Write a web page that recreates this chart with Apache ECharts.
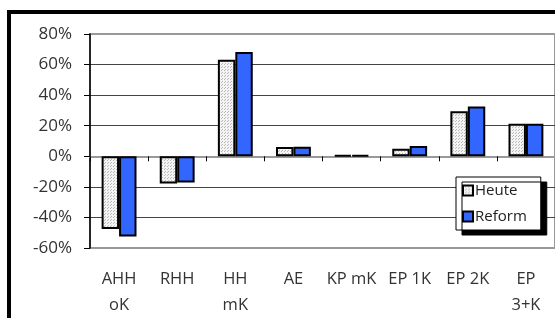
<!DOCTYPE html>
<html>
<head>
<meta charset="utf-8">
<script src="https://cdn.jsdelivr.net/npm/echarts@6/dist/echarts.min.js"></script>
<style>
  html, body { margin: 0; padding: 0; background: #fff; }
  #chart { width: 555px; height: 318px; }
</style>
</head>
<body>
<div id="chart"></div>
<script>
  // Kategorien und Werte (in %)
  var categories = ['AHH\noK', 'RHH', 'HH\nmK', 'AE', 'KP mK', 'EP 1K', 'EP 2K', 'EP\n3+K'];
  var heute = [-47.5, -17.8, 63.2, 6.0, 0.8, 5.0, 29.5, 21.3];
  var reform = [-52.5, -17.2, 68.2, 6.3, 0.8, 6.7, 32.5, 21.3];
  var seriesNames = ['Heute', 'Reform'];

  // gepunktetes Muster fuer "Heute"
  var dots = document.createElement('canvas');
  dots.width = 3;
  dots.height = 3;
  var ctx = dots.getContext('2d');
  ctx.fillStyle = '#f4f4f4';
  ctx.fillRect(0, 0, 3, 3);
  ctx.fillStyle = '#b8b8b8';
  ctx.fillRect(0, 0, 1, 1);
  ctx.fillRect(2, 1, 1, 1);

  var font = 'Open Sans';
  var myChart = echarts.init(document.getElementById('chart'));
  myChart.setOption({
    animation: false,
    textStyle: { fontFamily: font, color: '#333' },
    graphic: [{
      type: 'rect',
      shape: { x: 9, y: 12, width: 600, height: 400 },
      style: { fill: 'none', stroke: '#000', lineWidth: 4 },
      z: 100
    }],
    legend: {
      data: seriesNames,
      orient: 'vertical',
      left: 456,
      top: 177,
      padding: [6, 14, 6, 6],
      itemGap: 11,
      itemWidth: 10,
      itemHeight: 10,
      icon: 'rect',
      backgroundColor: '#fff',
      borderColor: '#000',
      borderWidth: 1,
      shadowColor: '#000',
      shadowBlur: 0,
      shadowOffsetX: 6,
      shadowOffsetY: 5,
      textStyle: { fontFamily: font, fontSize: 15, color: '#222', padding: [0, 0, 0, -3] }
    },
    grid: {
      left: 90,
      top: 34,
      width: 476,
      height: 218,
      show: true,
      borderColor: '#999',
      borderWidth: 2,
      backgroundColor: 'transparent'
    },
    xAxis: [{
      type: 'category',
      data: categories,
      position: 'bottom',
      axisLine: { show: false, onZero: false },
      axisTick: { show: false },
      axisLabel: { interval: 0, fontFamily: font, fontSize: 16.5, color: '#333', lineHeight: 26, margin: 18 }
    }, {
      type: 'category',
      data: categories,
      position: 'bottom',
      axisLine: { show: true, onZero: true, lineStyle: { color: '#999', width: 2 } },
      axisTick: { show: true, interval: 0, length: 5, lineStyle: { color: '#000', width: 1 } },
      axisLabel: { show: false }
    }],
    yAxis: {
      type: 'value',
      min: -60,
      max: 80,
      interval: 20,
      axisLine: { show: true, lineStyle: { color: '#000', width: 1.5 } },
      axisTick: { show: true, length: 6, lineStyle: { color: '#000' } },
      axisLabel: { formatter: '{value}%', fontFamily: font, fontSize: 17, color: '#333', margin: 18 },
      splitLine: { show: true, showMinLine: false, showMaxLine: false, lineStyle: { color: '#444', width: 1 } }
    },
    series: [{
      name: seriesNames[0],
      type: 'bar',
      data: heute,
      barGap: '0%',
      barCategoryGap: '40%',
      itemStyle: { color: { image: dots, repeat: 'repeat' }, borderColor: '#000', borderWidth: 2 }
    }, {
      name: seriesNames[1],
      type: 'bar',
      data: reform,
      barGap: '0%',
      barCategoryGap: '40%',
      itemStyle: { color: '#3366ff', borderColor: '#000', borderWidth: 2 }
    }]
  });
</script>
</body>
</html>
